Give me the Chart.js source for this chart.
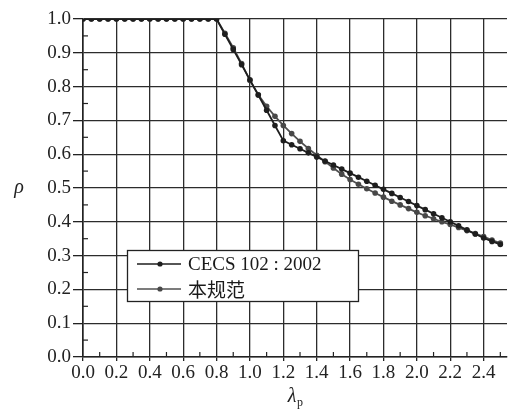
<!DOCTYPE html>
<html>
<head>
<meta charset="utf-8">
<script src="https://cdn.jsdelivr.net/npm/chart.js@4/dist/chart.umd.min.js"></script>
<style>
  html, body { margin: 0; padding: 0; background: #fff; }
  #wrap { width: 511px; height: 410px; position: relative; }
</style>
</head>
<body>
<div id="wrap"><canvas id="chart"></canvas></div>
<script>
// λp values (both curves sampled every 0.05)
const lambdaValues = [0.00, 0.05, 0.10, 0.15, 0.20, 0.25, 0.30, 0.35, 0.40, 0.45, 0.50, 0.55, 0.60, 0.65, 0.70, 0.75,
    0.80, 0.85, 0.90, 0.95, 1.00, 1.05, 1.10, 1.15, 1.20, 1.25, 1.30, 1.35, 1.40, 1.45, 1.50, 1.55, 1.60, 1.65,
    1.70, 1.75, 1.80, 1.85, 1.90, 1.95, 2.00, 2.05, 2.10, 2.15, 2.20, 2.25, 2.30, 2.35, 2.40, 2.45, 2.50];

const rhoCecs = [1, 1, 1, 1, 1, 1, 1, 1, 1, 1, 1, 1, 1, 1, 1, 1,
    1, 0.955, 0.910, 0.865, 0.820, 0.775, 0.730, 0.685, 0.640, 0.628, 0.616, 0.604, 0.592, 0.580, 0.568, 0.556, 0.544, 0.532,
    0.520, 0.508, 0.496, 0.484, 0.472, 0.460, 0.448, 0.436, 0.424, 0.412, 0.400, 0.388, 0.376, 0.364, 0.352, 0.342, 0.333];

const rhoThisCode = [1, 1, 1, 1, 1, 1, 1, 1, 1, 1, 1, 1, 1, 1, 1, 1,
    1, 0.958, 0.915, 0.868, 0.818, 0.776, 0.742, 0.712, 0.685, 0.661, 0.638, 0.617, 0.597, 0.578, 0.559, 0.541, 0.525, 0.511,
    0.498, 0.485, 0.473, 0.461, 0.450, 0.439, 0.428, 0.418, 0.409, 0.400, 0.392, 0.383, 0.374, 0.365, 0.356, 0.346, 0.337];

const seriesLabels = ['CECS 102 : 2002', '本规范'];
const xTicks = [0.0, 0.2, 0.4, 0.6, 0.8, 1.0, 1.2, 1.4, 1.6, 1.8, 2.0, 2.2, 2.4];
const yTicks = [0.0, 0.1, 0.2, 0.3, 0.4, 0.5, 0.6, 0.7, 0.8, 0.9, 1.0];

const serif = "'Liberation Serif', 'Times New Roman', serif";
const gridColor = '#2c2c2c';

const toPoints = (ys) => lambdaValues.map((x, i) => ({ x, y: ys[i] }));

// minor ticks on the inside of both axes
const minorTicks = {
    id: 'minorTicks',
    afterDraw(chart) {
        const { ctx, chartArea, scales } = chart;
        ctx.save();
        ctx.strokeStyle = '#222';
        ctx.lineWidth = 1.2;
        for (let i = 0; i < yTicks.length - 1; i++) {
            const py = scales.y.getPixelForValue(yTicks[i] + 0.05);
            ctx.beginPath(); ctx.moveTo(chartArea.left, py); ctx.lineTo(chartArea.left + 5, py); ctx.stroke();
        }
        for (let i = 0; i < xTicks.length; i++) {
            const px = scales.x.getPixelForValue(xTicks[i] + 0.1);
            if (px > chartArea.right) continue;
            ctx.beginPath(); ctx.moveTo(px, chartArea.bottom); ctx.lineTo(px, chartArea.bottom - 5); ctx.stroke();
        }
        ctx.restore();
    }
};

// axis titles: italic rho and lambda with subscript p
const axisTitles = {
    id: 'axisTitles',
    afterDraw(chart) {
        const { ctx, chartArea } = chart;
        ctx.save();
        ctx.fillStyle = '#222';
        ctx.textBaseline = 'middle';
        ctx.font = `italic 20px ${serif}`;
        ctx.textAlign = 'center';
        ctx.fillText('ρ', 19, chart.scales.y.getPixelForValue(0.5));
        const cx = (chartArea.left + chartArea.right) / 2;
        ctx.fillText('λ', cx - 3, 397);
        ctx.font = `12px ${serif}`;
        ctx.fillText('p', cx + 5, 403);
        ctx.restore();
    }
};

// legend box inside the plot, lower left
const boxLegend = {
    id: 'boxLegend',
    afterDraw(chart) {
        const { ctx } = chart;
        const left = 127, top = 250, w = 231, h = 51;
        ctx.save();
        ctx.fillStyle = '#fff';
        ctx.fillRect(left, top, w, h);
        ctx.strokeStyle = '#222';
        ctx.lineWidth = 1.3;
        ctx.strokeRect(left + 0.5, top + 0.5, w, h);
        chart.data.datasets.forEach((ds, i) => {
            const y = top + 14 + i * 25;
            ctx.strokeStyle = ds.borderColor;
            ctx.lineWidth = 1.3;
            ctx.beginPath(); ctx.moveTo(137, y); ctx.lineTo(181, y); ctx.stroke();
            ctx.fillStyle = ds.pointBackgroundColor;
            ctx.beginPath(); ctx.arc(160, y, 2.6, 0, Math.PI * 2); ctx.fill();
            ctx.fillStyle = '#1a1a1a';
            ctx.textBaseline = 'middle';
            ctx.textAlign = 'left';
            ctx.font = i === 0 ? `19px ${serif}` : `19px 'Noto Sans CJK SC', sans-serif`;
            ctx.fillText(ds.label, 188, y + 1);
        });
        ctx.restore();
    }
};

new Chart(document.getElementById('chart'), {
    type: 'line',
    data: {
        datasets: [
            {
                label: seriesLabels[0], data: toPoints(rhoCecs),
                borderColor: '#1e1e1e', borderWidth: 1.8,
                pointBackgroundColor: '#1e1e1e', pointBorderColor: '#1e1e1e',
                pointRadius: 2.8, pointBorderWidth: 0, tension: 0
            },
            {
                label: seriesLabels[1], data: toPoints(rhoThisCode),
                borderColor: '#505050', borderWidth: 1.8,
                pointBackgroundColor: '#484848', pointBorderColor: '#484848',
                pointRadius: 2.8, pointBorderWidth: 0, tension: 0
            }
        ]
    },
    options: {
        responsive: true, maintainAspectRatio: false, animation: false,
        layout: { padding: { top: 19, right: 0, bottom: 0, left: 0 } },
        plugins: { legend: { display: false }, tooltip: { enabled: false } },
        scales: {
            x: {
                type: 'linear', min: 0, max: 2.54,
                afterBuildTicks: (scale) => { scale.ticks = xTicks.map(v => ({ value: v })); },
                afterFit: (scale) => { scale.height = 53; },
                grid: { color: gridColor, lineWidth: 1.3, tickLength: 4, tickColor: '#222' },
                border: { color: '#222', width: 1.6 },
                ticks: {
                    autoSkip: false, maxRotation: 0, padding: 1, color: '#222',
                    font: { family: serif, size: 19 },
                    callback: (v) => Number(v).toFixed(1)
                }
            },
            y: {
                min: 0, max: 1.0,
                afterBuildTicks: (scale) => { scale.ticks = yTicks.map(v => ({ value: v })); },
                afterFit: (scale) => { scale.width = 83; },
                grid: { color: gridColor, lineWidth: 1.3, tickLength: 10, tickColor: '#222' },
                border: { color: '#222', width: 1.6 },
                ticks: {
                    padding: 2, color: '#222',
                    font: { family: serif, size: 19 },
                    callback: (v) => Number(v).toFixed(1)
                }
            }
        }
    },
    plugins: [minorTicks, axisTitles, boxLegend]
});
</script>
</body>
</html>
